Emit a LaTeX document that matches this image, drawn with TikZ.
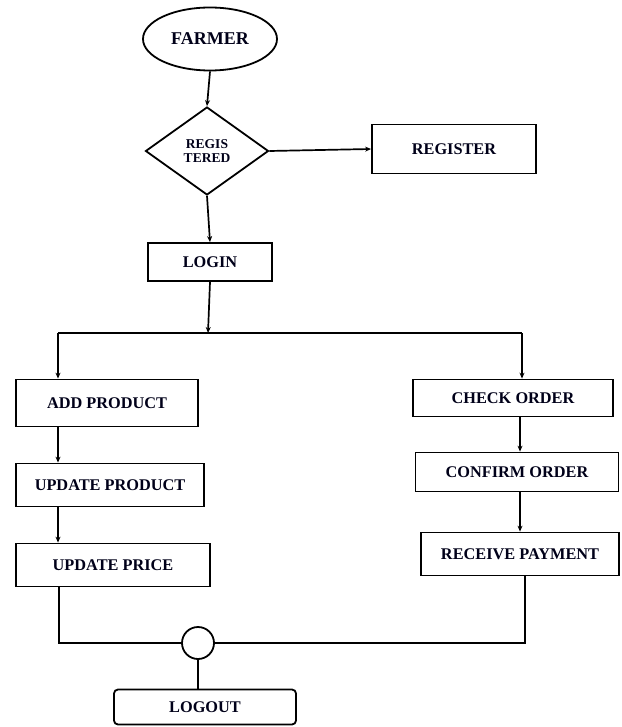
\documentclass[tikz,border=0pt]{standalone}
\usepackage{fontspec}
\setmainfont{Liberation Serif}
\usetikzlibrary{shapes.geometric,arrows.meta}
\begin{document}
\begin{tikzpicture}[x=1pt,y=-1pt,
  every node/.style={font=\bfseries\fontsize{16.3}{18}\selectfont, text=black!90!blue},
  box/.style={draw=black, line width=1.8pt, rectangle, inner sep=0pt, fill=white},
  flow/.style={line width=1.7pt, -{Stealth[length=6pt,width=5pt]}},
  link/.style={line width=1.7pt}]
\useasboundingbox (0,0) rectangle (621,727);
\node[box, ellipse, minimum width=134pt, minimum height=63pt, font=\bfseries\fontsize{18}{20}\selectfont] (farmer) at (210,39) {FARMER};
\node[box, diamond, aspect=1.4, minimum width=123pt, minimum height=88pt, align=center, font=\bfseries\fontsize{13.5}{14.5}\selectfont] (reg) at (207,151) {REGIS\\TERED};
\node[box, minimum width=164pt, minimum height=49pt] (register) at (454,149) {REGISTER};
\node[box, minimum width=124pt, minimum height=38pt] (login) at (210,262) {LOGIN};
\node[box, minimum width=182pt, minimum height=47pt] (addp) at (107,403) {ADD PRODUCT};
\node[box, minimum width=188pt, minimum height=43pt] (updp) at (110,485) {UPDATE PRODUCT};
\node[box, minimum width=194pt, minimum height=43pt] (updpr) at (113,565) {UPDATE PRICE};
\node[box, minimum width=200pt, minimum height=37pt] (check) at (513,398) {CHECK ORDER};
\node[box, minimum width=203pt, minimum height=39pt] (confirm) at (517,472) {CONFIRM ORDER};
\node[box, minimum width=198pt, minimum height=43pt] (receive) at (520,554) {RECEIVE PAYMENT};
\node[box, circle, minimum size=32pt] (join) at (198,643) {};
\node[box, rounded corners=4pt, minimum width=182pt, minimum height=35pt] (logout) at (205,707) {LOGOUT};
\coordinate (sl) at (58,333);
\coordinate (sr) at (522,333);
\coordinate (sm) at (208,333);
\draw[flow] (farmer.south) -- (reg.north);
\draw[flow] (reg.east) -- (register.west);
\draw[flow] (reg.south) -- (login.north);
\draw[flow] (login.south) -- (sm);
\draw[link] (sl) -- (sr);
\draw[flow] (sl) -- (sl |- addp.north);
\draw[flow] (sr) -- (sr |- check.north);
\draw[flow] (sl |- addp.south) -- (sl |- updp.north);
\draw[flow] (sl |- updp.south) -- (sl |- updpr.north);
\draw[flow] (520,0 |- check.south) -- (520,0 |- confirm.north);
\draw[flow] (520,0 |- confirm.south) -- (520,0 |- receive.north);
\draw[link] (59,0 |- updpr.south) |- (join.west);
\draw[link] (525,0 |- receive.south) |- (join.east);
\draw[link] (join.south) -- (join.south |- logout.north);
\end{tikzpicture}
\end{document}
